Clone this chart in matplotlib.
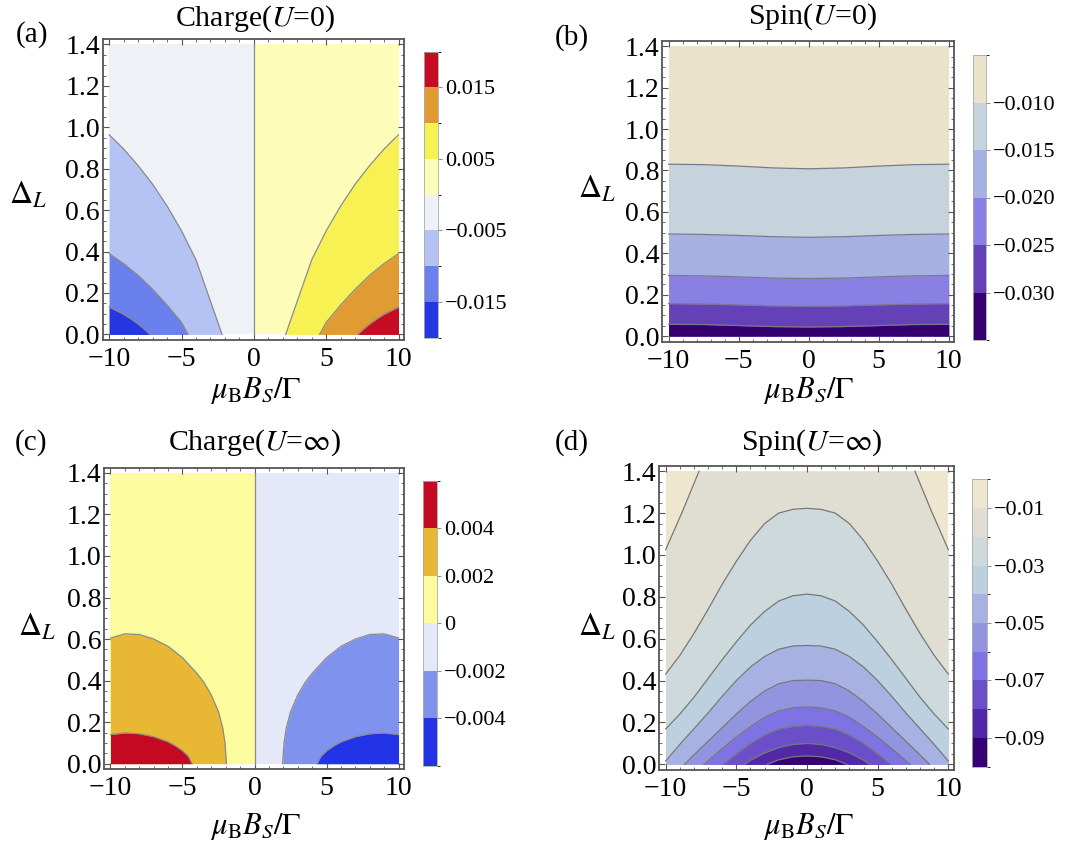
import numpy as np
import matplotlib
matplotlib.use('Agg')
import matplotlib.pyplot as plt
from matplotlib.colors import ListedColormap, BoundaryNorm
from matplotlib.cm import ScalarMappable
from matplotlib.ticker import MultipleLocator

plt.rcParams['font.family'] = ['Liberation Serif', 'DejaVu Serif']
plt.rcParams['mathtext.fontset'] = 'stix'

# ---- panel (a): Charge(U=0), contour lines read on the B<0 side (field is antisymmetric)
a_levels = [-0.02, -0.015, -0.01, -0.005, 0, 0.005, 0.01, 0.015, 0.02]
a_colors = ['#2536e3', '#6a80ec', '#b5c3f4', '#eef1f6',
            '#fdfdb9', '#f8f153', '#e09c33', '#c50c22']
a_ticks = [-0.015, -0.005, 0.005, 0.015]
a_ticklabels = ['\u22120.015', '\u22120.005', '0.005', '0.015']
# |level| = 0.005, 0.010, 0.015
a_x = [[-10, -9, -8, -7, -6, -5, -4.5, -4, -3.7, -3.2, -2.9, -2.6, -2.2],
       [-10, -9, -8, -7, -6, -5.5, -5, -4.55],
       [-10, -9, -8.5, -8, -7.6, -7.18]]
a_y = [[0.964, 0.895, 0.815, 0.725, 0.62, 0.5, 0.43, 0.36, 0.3, 0.2, 0.14, 0.08, 0.0],
       [0.39, 0.342, 0.285, 0.218, 0.142, 0.1, 0.058, 0.0],
       [0.132, 0.097, 0.075, 0.05, 0.027, 0.0]]

# ---- panel (b): Spin(U=0), symmetric in B
b_levels = [-0.035, -0.03, -0.025, -0.02, -0.015, -0.01, -0.005]
b_colors = ['#360070', '#6541b8', '#8a80e3', '#a5b0e3', '#c6d3dd', '#eae2cb']
b_ticks = [-0.03, -0.025, -0.02, -0.015, -0.01]
b_ticklabels = ['\u22120.030', '\u22120.025', '\u22120.020', '\u22120.015', '\u22120.010']
b_x = [-10, -7.5, -5, -2.5, 0]
# levels -0.010, -0.015, -0.020, -0.025, -0.030
b_y = [[0.83, 0.828, 0.821, 0.812, 0.808],
       [0.493, 0.491, 0.486, 0.48, 0.477],
       [0.293, 0.291, 0.286, 0.28, 0.278],
       [0.157, 0.155, 0.151, 0.146, 0.144],
       [0.057, 0.056, 0.051, 0.046, 0.044]]

# ---- panel (c): Charge(U=inf), read on the B<0 side (antisymmetric)
c_levels = [-0.006, -0.004, -0.002, 0, 0.002, 0.004, 0.006]
c_colors = ['#2233e6', '#7f93ee', '#e4e8f9', '#fcfc9e', '#e8b834', '#c30a22']
c_ticks = [-0.004, -0.002, 0, 0.002, 0.004]
c_ticklabels = ['\u22120.004', '\u22120.002', '0', '0.002', '0.004']
# |level| = 0.002, 0.004
c_x = [[-10, -9, -8, -7, -6, -5, -4, -3.5, -3, -2.5, -2.2, -2.05, -1.95],
       [-10, -9, -8, -7, -6, -5.5, -5, -4.6, -4.34]]
c_y = [[0.605, 0.625, 0.622, 0.6, 0.565, 0.51, 0.435, 0.39, 0.33, 0.25, 0.17, 0.1, 0.0],
       [0.14, 0.148, 0.144, 0.13, 0.105, 0.086, 0.062, 0.035, 0.0]]

# ---- panel (d): Spin(U=inf), symmetric in B, read on the B<0 side
d_levels = [-0.1, -0.09, -0.08, -0.07, -0.06, -0.05, -0.04, -0.03, -0.02, -0.01, 0.0]
d_colors = ['#370073', '#5228a8', '#6a4fc9', '#7f72e3', '#9294e0',
            '#a7b2e2', '#bcd0e0', '#cdd9db', '#e0ded3', '#eee6cf']
d_ticks = [-0.09, -0.07, -0.05, -0.03, -0.01]
d_ticklabels = ['\u22120.09', '\u22120.07', '\u22120.05', '\u22120.03', '\u22120.01']
# levels -0.01 ... -0.09
d_x = [[-10, -8.8, -7.64],
       [-10, -9, -8, -7, -6, -5, -4, -3, -2, -1, 0],
       [-10, -9, -8, -7, -6, -5, -4, -3, -2, -1, 0],
       [-10, -9, -8, -7, -6, -5, -4, -3, -2, -1, 0],
       [-8.67, -8, -7, -6, -5, -4, -3, -2, -1, 0],
       [-7.29, -6, -5, -4, -3, -2, -1, 0],
       [-5.92, -5, -4, -3, -2, -1, 0],
       [-4.43, -4, -3, -2, -1, 0],
       [-2.82, -2, -1, 0]]
d_y = [[1.025, 1.21, 1.4],
       [0.431, 0.52, 0.625, 0.74, 0.86, 0.97, 1.07, 1.15, 1.2, 1.218, 1.223],
       [0.169, 0.24, 0.32, 0.41, 0.5, 0.585, 0.665, 0.73, 0.78, 0.805, 0.813],
       [0.016, 0.095, 0.17, 0.245, 0.325, 0.4, 0.465, 0.515, 0.55, 0.565, 0.568],
       [0.0, 0.045, 0.11, 0.175, 0.24, 0.3, 0.35, 0.385, 0.4, 0.402],
       [0.0, 0.075, 0.13, 0.18, 0.225, 0.255, 0.27, 0.274],
       [0.0, 0.05, 0.1, 0.14, 0.168, 0.181, 0.185],
       [0.0, 0.02, 0.055, 0.08, 0.095, 0.1],
       [0.0, 0.022, 0.036, 0.04]]

W, H = 1081, 844
fig = plt.figure(figsize=(W / 100, H / 100), dpi=100)


def rect(l, t, r, b):
    return [l / W, 1 - b / H, (r - l) / W, (b - t) / H]


def mirror(x, y):
    x = np.asarray(x, float)
    y = np.asarray(y, float)
    return np.concatenate([x, -x[::-1]]), np.concatenate([y, y[::-1]])


def style_frame(ax):
    ax.set_xlim(-10.45, 10.4)
    ax.set_ylim(-0.027, 1.425)
    ax.xaxis.set_major_locator(MultipleLocator(5))
    ax.xaxis.set_minor_locator(MultipleLocator(1))
    ax.yaxis.set_major_locator(MultipleLocator(0.2))
    ax.yaxis.set_minor_locator(MultipleLocator(0.05))
    ax.xaxis.set_major_formatter(lambda v, p: f'{v:.0f}'.replace('-', '\u2212'))
    ax.yaxis.set_major_formatter(lambda v, p: f'{v:.1f}')
    ax.tick_params(which='both', direction='in', top=True, right=True,
                   color='#555555', labelsize=20)
    ax.tick_params(which='major', length=4, width=0.8)
    ax.tick_params(which='minor', length=2, width=0.6)
    ax.tick_params(axis='x', pad=5)
    ax.tick_params(axis='y', pad=2)
    for s in ax.spines.values():
        s.set_color('#555555')
        s.set_linewidth(1.3)


def add_cbar(r, levels, colors, ticks, labels):
    cax = fig.add_axes(r)
    sm = ScalarMappable(norm=BoundaryNorm(levels, len(colors)),
                        cmap=ListedColormap(colors))
    cb = fig.colorbar(sm, cax=cax, ticks=ticks)
    cb.ax.set_yticklabels(labels)
    cb.ax.tick_params(labelsize=16, length=3, width=0.6, color='#777777', pad=2)
    cb.outline.set_edgecolor('#aaaaaa')
    cb.outline.set_linewidth(0.6)
    return cb


line_kw = dict(color='#8a8a8a', lw=0.9)

# (a)
ax = fig.add_axes(rect(102.7, 39.3, 404.3, 340))
ax.fill_between([-10, 0], 0, 1.4, color=a_colors[3], lw=0)
ax.fill_between([0, 10], 0, 1.4, color=a_colors[4], lw=0)
for k in range(3):
    x = np.asarray(a_x[k], float)
    y = np.asarray(a_y[k], float)
    ax.fill_between(x, y, 0, color=a_colors[2 - k], lw=0)
    ax.fill_between(-x, y, 0, color=a_colors[5 + k], lw=0)
    ax.plot(x, y, **line_kw)
    ax.plot(-x, y, **line_kw)
ax.plot([0, 0], [0, 1.4], **line_kw)
style_frame(ax)
add_cbar(rect(424, 51.7, 437.7, 337.7), a_levels, a_colors, a_ticks, a_ticklabels)

# (b)
ax = fig.add_axes(rect(662.3, 41, 954.3, 341.7))
ax.fill_between([-10, 10], 0, 1.4, color=b_colors[5], lw=0)
for k in range(5):
    x, y = mirror(b_x, b_y[k])
    ax.fill_between(x, y, 0, color=b_colors[4 - k], lw=0)
    ax.plot(x, y, color='#7a7a8a', lw=0.9)
style_frame(ax)
add_cbar(rect(972.7, 55, 986, 340), b_levels, b_colors, b_ticks, b_ticklabels)

# (c)
ax = fig.add_axes(rect(104, 467.7, 404.3, 769.3))
ax.fill_between([-10, 0], 0, 1.4, color=c_colors[3], lw=0)
ax.fill_between([0, 10], 0, 1.4, color=c_colors[2], lw=0)
for k in range(2):
    x = np.asarray(c_x[k], float)
    y = np.asarray(c_y[k], float)
    ax.fill_between(x, y, 0, color=c_colors[4 + k], lw=0)
    ax.fill_between(-x, y, 0, color=c_colors[1 - k], lw=0)
    ax.plot(x, y, **line_kw)
    ax.plot(-x, y, **line_kw)
ax.plot([0, 0], [0, 1.4], **line_kw)
style_frame(ax)
add_cbar(rect(423.3, 481, 437.3, 765.7), c_levels, c_colors, c_ticks, c_ticklabels)

# (d)
ax = fig.add_axes(rect(659.3, 466, 954, 770))
ax.fill_between([-10, 10], 0, 1.4, color=d_colors[9], lw=0)
for k in range(9):
    x, y = mirror(d_x[k], d_y[k])
    ax.fill_between(x, y, 0, color=d_colors[8 - k], lw=0)
    if k == 0:
        ax.plot(d_x[0], d_y[0], color='#777777', lw=0.9)
        ax.plot(-np.asarray(d_x[0]), d_y[0], color='#777777', lw=0.9)
    else:
        ax.plot(x, y, color='#777777', lw=0.9)
style_frame(ax)
add_cbar(rect(972.3, 479.3, 986.7, 766.7), d_levels, d_colors, d_ticks, d_ticklabels)

# labels
def ftext(x, y, s, **kw):
    fig.text(x / W, 1 - y / H, s, ha='center', va='center', **kw)

ftext(255, 19, r'Charge($U$=0)', fontsize=21.5)
ftext(812, 17, r'Spin($U$=0)', fontsize=21.5)
ftext(255, 443, r'Charge($U$=$\infty$)', fontsize=21.5)
ftext(812, 443, r'Spin($U$=$\infty$)', fontsize=21.5)
ftext(32, 35, '(a)', fontsize=21)
ftext(572, 38, '(b)', fontsize=21)
ftext(31, 443, '(c)', fontsize=21)
ftext(572, 443, '(d)', fontsize=21)
for (x, y) in [(28, 196), (597, 190), (37, 628), (597, 628)]:
    ftext(x, y, r'$\Delta_L$', fontsize=23)
for (x, y) in [(256, 391), (809, 391), (256, 826), (809, 826)]:
    ftext(x, y, r'$\mu_{\rm B}B_S/\Gamma$', fontsize=22)

fig.savefig('out.png', dpi=100)
